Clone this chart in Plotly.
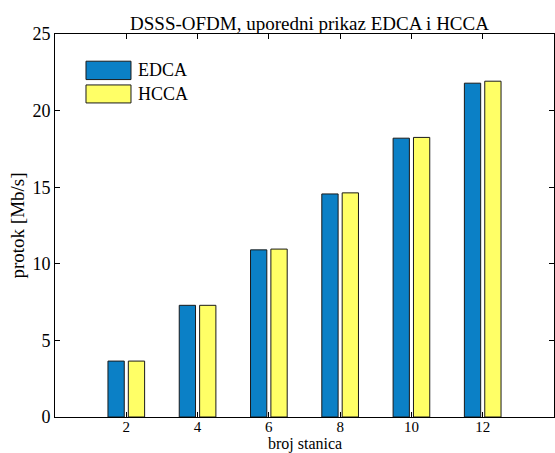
import plotly.graph_objects as go

# Number of stations and throughput per access scheme (Mb/s)
stations = [2, 4, 6, 8, 10, 12]
edca = [3.65, 7.29, 10.91, 14.56, 18.20, 21.79]
hcca = [3.65, 7.29, 10.96, 14.63, 18.25, 21.92]
series_names = ["EDCA", "HCCA"]
series_colors = ["#0b80c6", "#ffff66"]
y_ticks = [0, 5, 10, 15, 20, 25]

FONT = "Liberation Serif, Times New Roman, serif"

fig = go.Figure()
for name, vals, col in zip(series_names, [edca, hcca], series_colors):
    fig.add_trace(go.Bar(
        x=stations, y=vals, name=name,
        marker=dict(color=col, line=dict(color="#1a1a1a", width=1)),
        showlegend=False,
    ))

# Legend drawn as wide colour swatches with labels, in paper coordinates
sw_x0, sw_x1 = 0.0621, 0.1523
sw_rows = [(0.881, 0.929), (0.820, 0.867)]
shapes = []
annotations = []
for (y0, y1), name, col in zip(sw_rows, series_names, series_colors):
    shapes.append(dict(type="rect", xref="paper", yref="paper",
                       x0=sw_x0, x1=sw_x1, y0=y0, y1=y1,
                       fillcolor=col, line=dict(color="#1a1a1a", width=1)))
    annotations.append(dict(xref="paper", yref="paper", x=0.162, y=(y0 + y1) / 2,
                            text=name, showarrow=False, xanchor="left",
                            yanchor="middle",
                            font=dict(family=FONT, size=18, color="black")))

# x-axis title sits just under the tick labels, at the bottom edge
annotations.append(dict(xref="paper", yref="paper", x=0.5, y=0, yshift=-38,
                        text="broj stanica", showarrow=False,
                        xanchor="center", yanchor="bottom",
                        font=dict(family=FONT, size=16, color="black")))

fig.update_layout(
    width=555, height=453,
    margin=dict(l=55, r=1, t=34, b=36),
    paper_bgcolor="white", plot_bgcolor="white",
    barmode="group", bargap=0.4286, bargroupgap=0.2,
    font=dict(family=FONT, size=18, color="black"),
    title=dict(text="DSSS-OFDM, uporedni prikaz EDCA i HCCA",
               x=0.51, xref="paper", xanchor="center",
               y=1, yref="paper", yanchor="bottom", pad=dict(b=4),
               font=dict(family=FONT, size=19, color="black")),
    shapes=shapes, annotations=annotations,
)
fig.update_xaxes(
    range=[0, 14], tickvals=stations, ticktext=[str(s) for s in stations],
    ticks="inside", ticklen=5, tickcolor="black", tickwidth=1,
    showline=True, linecolor="black", linewidth=1, mirror="ticks",
    showgrid=False, zeroline=False, ticklabelstandoff=-4,
    tickfont=dict(family=FONT, size=15),
)
fig.update_yaxes(
    range=[0, 25], tickvals=y_ticks,
    ticks="inside", ticklen=5, tickcolor="black", tickwidth=1,
    showline=True, linecolor="black", linewidth=1, mirror="ticks",
    showgrid=False, zeroline=False,
    title=dict(text="protok [Mb/s]", standoff=2, font=dict(family=FONT, size=19)),
    tickfont=dict(family=FONT, size=18),
)

fig.write_html("out.html")
